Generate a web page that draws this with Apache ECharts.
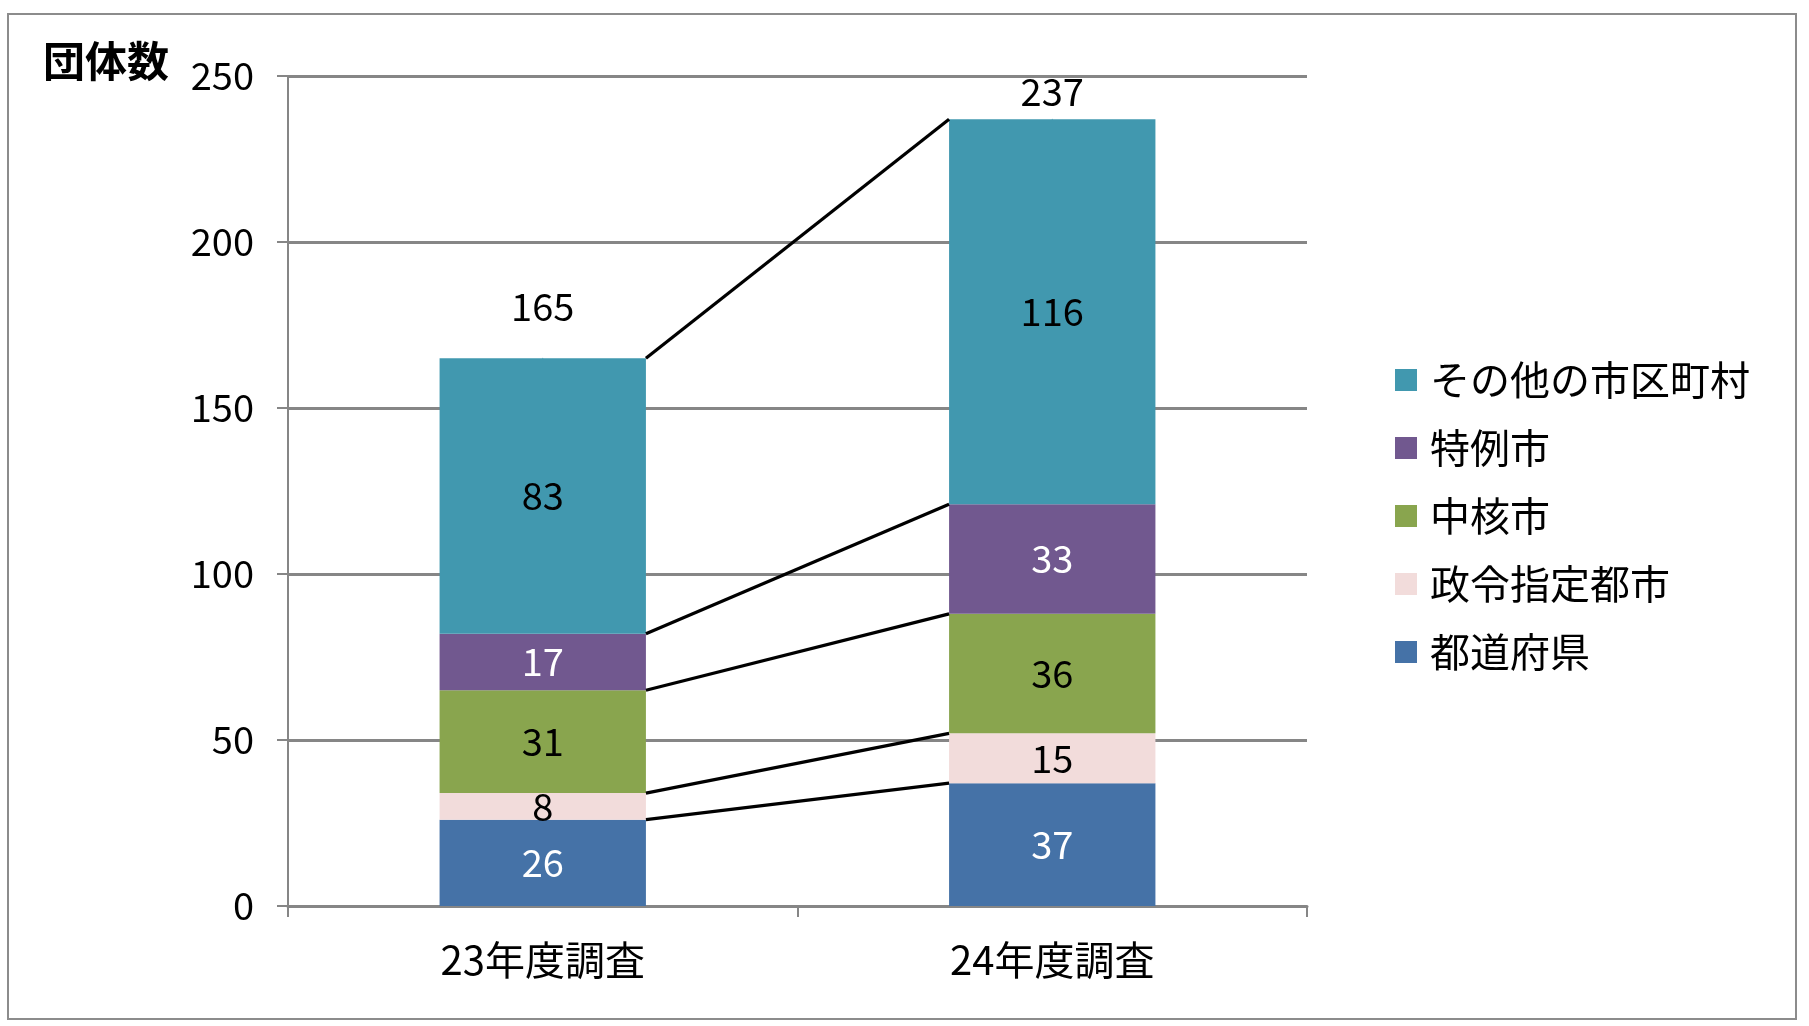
<!DOCTYPE html>
<html><head><meta charset="utf-8">
<script src="https://cdn.jsdelivr.net/npm/echarts@6/dist/echarts.min.js"></script>
<style>html,body{margin:0;padding:0;background:#fff}#c{width:1809px;height:1026px}</style>
</head><body><div id="c"></div>
<script>
const categories = ['23年度調査', '24年度調査'];
const prefectures = [26, 37];      // 都道府県
const designated = [8, 15];        // 政令指定都市
const coreCities = [31, 36];       // 中核市
const specialCities = [17, 33];    // 特例市
const others = [83, 116];          // その他の市区町村
const totals = [165, 237];
const yTicks = [0, 50, 100, 150, 200, 250];

const FONT = 'Noto Sans CJK JP';
const seriesDefs = [
  {name: '都道府県', data: prefectures, color: '#4572A7', label: '#ffffff'},
  {name: '政令指定都市', data: designated, color: '#F2DCDB', label: '#000000'},
  {name: '中核市', data: coreCities, color: '#89A54E', label: '#000000'},
  {name: '特例市', data: specialCities, color: '#71588F', label: '#ffffff'},
  {name: 'その他の市区町村', data: others, color: '#4198AF', label: '#000000'}
];

// cumulative boundaries for connector lines
const connectors = [];
let c0 = 0, c1 = 0;
seriesDefs.forEach(s => { c0 += s.data[0]; c1 += s.data[1]; connectors.push([0, c0, c1]); });

const chart = echarts.init(document.getElementById('c'));
const series = seriesDefs.map(s => ({
  name: s.name, type: 'bar', stack: 'a', barWidth: '40.5%', data: s.data,
  itemStyle: {color: s.color},
  label: {show: true, position: 'inside', color: s.label, fontFamily: FONT, fontSize: 38},
  z: 2
}));
series.push({
  type: 'custom', name: 'conn', data: connectors, encode: {x: 0, y: 1}, z: 5,
  renderItem: function (params, api) {
    const band = api.size([1, 0])[0];
    const half = band * 0.2025;
    const p0 = api.coord([0, api.value(1)]);
    const p1 = api.coord([1, api.value(2)]);
    return {type: 'line', shape: {x1: p0[0] + half, y1: p0[1], x2: p1[0] - half, y2: p1[1]},
      style: {stroke: '#000', lineWidth: 3.2}};
  }
});
const totalDist = [32, 8];
series.push({
  type: 'scatter', name: 'total', z: 1,
  data: totals.map((v, i) => ({value: v, label: {distance: totalDist[i]}})),
  symbol: 'circle', symbolSize: 1, itemStyle: {color: '#4198AF', opacity: 1}, silent: true,
  label: {show: true, position: 'top', color: '#000', opacity: 1, fontFamily: FONT, fontSize: 38}
});

chart.setOption({
  animation: false,
  backgroundColor: '#fff',
  textStyle: {fontFamily: FONT},
  graphic: [
    {type: 'rect', shape: {x: 8, y: 14, width: 1788, height: 1005}, style: {fill: 'none', stroke: '#8c8c8c', lineWidth: 2}},
    {type: 'text', left: 43, top: 40, style: {text: '団体数', font: 'bold 42px "Noto Sans CJK JP"', fill: '#000'}}
  ],
  grid: {left: 288, right: 502, top: 76, bottom: 120},
  legend: {
    orient: 'vertical', left: 1390, top: 355, itemWidth: 22, itemHeight: 22, itemGap: 28,
    icon: 'rect',
    data: ['その他の市区町村', '特例市', '中核市', '政令指定都市', '都道府県'],
    textStyle: {fontFamily: FONT, fontSize: 40, color: '#000', padding: [0, 0, 0, 8]}
  },
  xAxis: {
    type: 'category', data: categories,
    axisLine: {lineStyle: {color: '#868686', width: 3}},
    axisTick: {show: true, length: 11, lineStyle: {color: '#868686', width: 2}},
    axisLabel: {color: '#000', fontFamily: FONT, fontSize: 40, margin: 34}
  },
  yAxis: {
    type: 'value', min: 0, max: 250, interval: 50,
    axisLine: {show: true, lineStyle: {color: '#868686', width: 2}},
    axisTick: {show: true, length: 11, lineStyle: {color: '#868686', width: 2}},
    splitLine: {lineStyle: {color: '#868686', width: 3}},
    axisLabel: {color: '#000', fontFamily: FONT, fontSize: 38, margin: 34,
      formatter: v => yTicks.includes(v) ? String(v) : ''}
  },
  series: series
});
</script></body></html>
